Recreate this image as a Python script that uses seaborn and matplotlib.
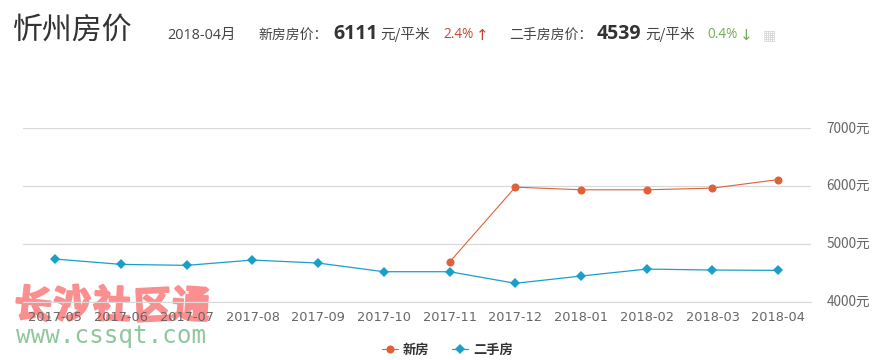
import numpy as np
import pandas as pd
import seaborn as sns
import matplotlib.pyplot as plt
import matplotlib.patheffects as pe
from matplotlib.transforms import ScaledTranslation

months = ['2017-05', '2017-06', '2017-07', '2017-08', '2017-09', '2017-10',
          '2017-11', '2017-12', '2018-01', '2018-02', '2018-03', '2018-04']
new_homes = [np.nan, np.nan, np.nan, np.nan, np.nan, np.nan,
             4683, 5981, 5935, 5935, 5964, 6111]
second_hand = [4735, 4643, 4626, 4718, 4666, 4516,
               4516, 4315, 4441, 4562, 4545, 4539]
y_ticks = [4000, 5000, 6000, 7000]

W, H = 874, 360
CJK = ['Noto Sans CJK SC', 'DejaVu Sans']

sns.set_style("white")
plt.rcParams['font.family'] = CJK
plt.rcParams['axes.unicode_minus'] = False

df = pd.DataFrame({'month': months, '新房': new_homes, '二手房': second_hand})

fig = plt.figure(figsize=(W / 100, H / 100), dpi=100)
ax = fig.add_axes([22.5 / W, 1 - 301.5 / H, 788.5 / W, 173.2 / H])
ax.patch.set_alpha(0)

x = np.arange(len(months))
sns.lineplot(x=x, y=df['新房'], ax=ax, color='#e0603a', marker='o', markersize=5.8,
             markeredgewidth=0, linewidth=0.8, label='新房', zorder=4)
sns.lineplot(x=x, y=df['二手房'], ax=ax, color='#1a9fc9', marker='D', markersize=4.6,
             markeredgewidth=0, linewidth=0.9, label='二手房', zorder=3)

ax.set_xlim(-0.5, 11.5)
ax.set_ylim(4000, 7000)
ax.set_xlabel('')
ax.set_ylabel('')
ax.set_xticks(x)
ax.set_xticklabels(months, family='DejaVu Sans', fontsize=9.3, color='#666666')
ax.set_yticks(y_ticks)
ax.set_yticklabels([f'{v}元' for v in y_ticks], fontsize=9.8, color='#666666')
ax.yaxis.tick_right()
ax.grid(axis='y', color='#d9d9d9', linewidth=0.9)
ax.grid(axis='x', visible=False)
ax.tick_params(axis='y', length=0, pad=11)
# ticks point up into the plot
ax.tick_params(axis='x', direction='in', length=8, width=0.7, color='#dddddd', pad=7)
sns.despine(ax=ax, left=True, right=True, top=True)
ax.spines['bottom'].set_color('#d9d9d9')
for lab in ax.get_yticklabels():
    lab.set_transform(lab.get_transform() + ScaledTranslation(0, 1.5 / 100, fig.dpi_scale_trans))

ax.legend(loc='center', bbox_to_anchor=(447.5 / W, 1 - 350 / H), bbox_transform=fig.transFigure,
          ncol=2, frameon=False, columnspacing=1.75, handlelength=1.2, handletextpad=0.35,
          prop={'family': CJK, 'size': 9.5, 'weight': 'bold'}, labelcolor='#333333')


def px_text(px, py, s, **kw):
    kw.setdefault('va', 'center')
    kw.setdefault('ha', 'left')
    fig.text(px / W, 1 - py / H, s, **kw)


# header row
px_text(12, 30, '忻州房价', fontsize=21.5, color='#333333')
px_text(167, 35, '2018-04月', fontsize=10.4, color='#444444', family=['Open Sans', 'Noto Sans CJK SC'])
px_text(258, 35, '新房房价：', fontsize=10, color='#444444')
px_text(333, 34, '6111', fontsize=14, color='#333333', weight='bold', family='Open Sans')
px_text(380, 35, '元/平米', fontsize=10.5, color='#444444')
px_text(443, 35, '2.4%', fontsize=9.8, color='#c0492f', family='Open Sans')
px_text(476, 35, '↑', fontsize=11, color='#c0492f', family='DejaVu Sans')
px_text(509, 35, '二手房房价：', fontsize=10, color='#444444')
px_text(597, 34, '4539', fontsize=14, color='#333333', weight='bold', family='Open Sans')
px_text(645, 35, '元/平米', fontsize=10.5, color='#444444')
px_text(707, 35, '0.4%', fontsize=9.8, color='#6fae55', family='Open Sans')
px_text(740, 35, '↓', fontsize=11, color='#6fae55', family='DejaVu Sans')
px_text(763, 35, '▦', fontsize=10, color='#d5d5d5', family='DejaVu Sans')

# watermark sits behind the axis labels
for px, py, ch, rot in [(33, 306, '长', -6), (73, 305, '沙', 6), (112, 306, '社', -3),
                        (153, 307, '区', 3), (191, 306, '通', -4)]:
    px_text(px, py, ch, fontsize=27, color='#fb8f8f', weight='bold',
            ha='center', rotation=rot, zorder=-1,
            path_effects=[pe.withStroke(linewidth=1.6, foreground='#fb8f8f')])
px_text(16, 336, 'www.cssqt.com', fontsize=17.5, color='#8fc79b', family='DejaVu Sans Mono', zorder=-1)

fig.savefig('out.png', dpi=100)
